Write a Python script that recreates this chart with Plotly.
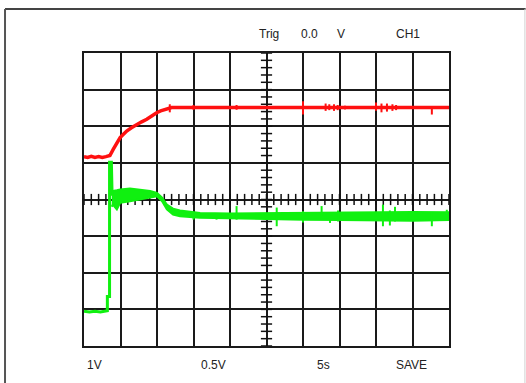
import numpy as np
import plotly.graph_objects as go

# ---- data (in screen divisions: x 0..10, y -4..4) ----
red_t = [0.00, 0.10, 0.20, 0.30, 0.40, 0.50, 0.60, 0.71, 0.80, 0.90, 0.99, 1.08, 1.17,
         1.30, 1.44, 1.58, 1.72, 1.85, 1.99, 2.10, 2.27, 2.40, 3.00, 4.00, 5.00, 6.00,
         7.00, 8.00, 9.00, 10.00]
red_v = [1.17, 1.15, 1.18, 1.15, 1.17, 1.15, 1.17, 1.20, 1.37, 1.52, 1.69, 1.78, 1.87,
         1.96, 2.05, 2.12, 2.19, 2.28, 2.37, 2.42, 2.46, 2.51, 2.51, 2.51, 2.51, 2.51,
         2.51, 2.51, 2.51, 2.51]
# red glitches: position, low, high
red_glitch_t = [2.35, 3.00, 4.18, 6.00, 6.62, 6.72, 6.85, 6.95, 7.15, 8.00, 8.15, 8.30, 8.45, 8.55, 9.53]
red_glitch_lo = [2.38, 2.45, 2.45, 2.32, 2.42, 2.44, 2.42, 2.44, 2.46, 2.42, 2.38, 2.40, 2.42, 2.44, 2.32]
red_glitch_hi = [2.60, 2.58, 2.58, 2.68, 2.62, 2.60, 2.60, 2.58, 2.56, 2.65, 2.62, 2.62, 2.60, 2.58, 2.52]

green_pre_t = [0.00, 0.15, 0.30, 0.45, 0.64, 0.64, 0.70, 0.70, 0.75, 0.77]
green_pre_v = [-3.05, -3.07, -3.05, -3.07, -3.04, -2.65, -2.65, 1.02, 1.02, 0.10]
green_env_t = [0.76, 0.79, 0.90, 0.99, 1.26, 1.53, 1.81, 2.00, 2.14, 2.27, 2.44, 2.63,
               3.18, 4.00, 5.00, 6.00, 7.00, 8.00, 9.00, 10.00]
green_hi = [0.25, 0.23, 0.25, 0.27, 0.30, 0.27, 0.23, 0.18, 0.05, -0.14, -0.25, -0.30,
            -0.37, -0.38, -0.37, -0.36, -0.35, -0.34, -0.34, -0.35]
green_lo = [-0.20, -0.14, -0.27, -0.09, -0.05, 0.00, 0.05, 0.09, -0.05, -0.27, -0.41, -0.46,
            -0.50, -0.52, -0.53, -0.55, -0.56, -0.58, -0.58, -0.56]
green_glitch_t = [3.00, 3.63, 4.18, 5.28, 6.00, 6.51, 6.74, 6.96, 8.19, 8.38, 8.52, 9.53, 9.94]
green_glitch_lo = [-0.55, -0.55, -0.55, -0.73, -0.63, -0.45, -0.64, -0.60, -0.73, -0.71, -0.60, -0.73, -0.55]
green_glitch_hi = [-0.38, -0.38, -0.18, -0.22, -0.32, -0.18, -0.36, -0.30, -0.14, -0.30, -0.20, -0.36, -0.28]

top_labels = ["Trig", "0.0", "V", "CH1"]
top_pos = [4.73, 5.89, 6.88, 8.49]
bottom_labels = ["1V", "0.5V", "5s", "SAVE"]
bottom_pos = [0.03, 3.16, 6.33, 8.49]

RED = "#ff1010"
GREEN = "#10f010"


def segs(t, lo, hi):
    xs, ys = [], []
    for a, b, c in zip(t, lo, hi):
        xs += [a, a, None]
        ys += [b, c, None]
    return xs, ys


fig = go.Figure()

# graticule minor ticks on centre lines
ht = np.round(np.arange(0, 10.001, 0.2), 3)
vt = np.round(np.arange(-4, 4.001, 0.2), 3)
fig.add_trace(go.Scatter(x=ht, y=[0] * len(ht), mode="markers",
                         marker=dict(symbol="line-ns", size=8, line=dict(width=1.5, color="#111")),
                         hoverinfo="skip"))
fig.add_trace(go.Scatter(x=[5] * len(vt), y=vt, mode="markers",
                         marker=dict(symbol="line-ew", size=8, line=dict(width=1.5, color="#111")),
                         hoverinfo="skip"))

# green channel
fig.add_trace(go.Scatter(x=green_env_t + green_env_t[::-1], y=green_hi + green_lo[::-1],
                         fill="toself", fillcolor=GREEN, mode="lines",
                         line=dict(color=GREEN, width=2)))
fig.add_trace(go.Scatter(x=green_pre_t, y=green_pre_v, mode="lines",
                         line=dict(color=GREEN, width=3)))
gx, gy = segs(green_glitch_t, green_glitch_lo, green_glitch_hi)
fig.add_trace(go.Scatter(x=gx, y=gy, mode="lines", line=dict(color=GREEN, width=2)))

# red channel
fig.add_trace(go.Scatter(x=red_t, y=red_v, mode="lines", line=dict(color=RED, width=3.5)))
rx, ry = segs(red_glitch_t, red_glitch_lo, red_glitch_hi)
fig.add_trace(go.Scatter(x=rx, y=ry, mode="lines", line=dict(color=RED, width=2)))

font = dict(family="Liberation Sans, Arial, sans-serif", size=12, color="#222")
ann = []
for lab, p in zip(top_labels, top_pos):
    ann.append(dict(text=lab, x=p, y=1.065, xref="x", yref="paper", xanchor="left",
                    yanchor="middle", showarrow=False, font=font))
for lab, p in zip(bottom_labels, bottom_pos):
    ann.append(dict(text=lab, x=p, y=-0.066, xref="x", yref="paper", xanchor="left",
                    yanchor="middle", showarrow=False, font=font))

shapes = [
    dict(type="line", xref="paper", yref="paper", x0=-0.2164, x1=1.21, y0=1.150, y1=1.150,
         line=dict(color="#444", width=2)),
    dict(type="line", xref="paper", yref="paper", x0=-0.2164, x1=-0.2164, y0=-0.2, y1=1.150,
         line=dict(color="#555", width=2)),
    dict(type="line", xref="paper", yref="paper", x0=1.208, x1=1.208, y0=-0.2, y1=1.150,
         line=dict(color="#d0d0d0", width=1)),
]

axis_common = dict(showgrid=True, gridcolor="#1a1a1a", gridwidth=1.5, zeroline=False,
                   showline=True, linecolor="#1a1a1a", linewidth=2, mirror=True,
                   showticklabels=False, ticks="", dtick=1, fixedrange=True)

fig.update_layout(
    width=526, height=383,
    margin=dict(l=84, r=77, t=53, b=37),
    paper_bgcolor="white", plot_bgcolor="white",
    showlegend=False,
    xaxis=dict(range=[0, 10], tick0=0, **axis_common),
    yaxis=dict(range=[-4, 4], tick0=-4, **axis_common),
    annotations=ann,
    shapes=shapes,
)

fig.write_html("out.html", config={"displayModeBar": False},
               post_script="document.body.style.margin='0px';document.body.style.overflow='hidden';")
